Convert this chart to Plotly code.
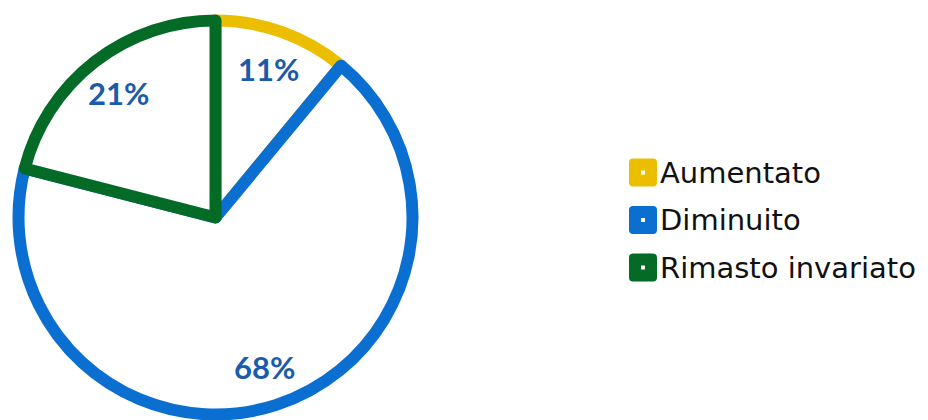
import math
import plotly.graph_objects as go

categorie = ["Aumentato", "Diminuito", "Rimasto invariato"]
valori = [11, 68, 21]
colori = ["#EBBF00", "#0B6FD1", "#046B27"]

# la pagina ha un margine di 8px sul body: la figura viene ridotta di conseguenza
W, H = 920, 412
dom_x = [0.0114, 0.4397]
dom_y = [0.0134, 0.9697]

fig = go.Figure(go.Pie(
    labels=categorie,
    values=valori,
    sort=False,
    direction="clockwise",
    rotation=0,
    marker=dict(colors=["white"] * 3, line=dict(color=colori, width=12)),
    textinfo="none",
    showlegend=False,
    hoverinfo="label+percent",
    domain=dict(x=dom_x, y=dom_y),
))

# etichette percentuali, posizionate lungo la bisettrice di ogni fetta
cx = (dom_x[0] + dom_x[1]) / 2 * W
cy = (dom_y[0] + dom_y[1]) / 2 * H
r = min((dom_x[1] - dom_x[0]) * W, (dom_y[1] - dom_y[0]) * H) / 2
tot = sum(valori)
cum = 0
for v in valori:
    ang = (cum + v / 2) / tot * 2 * math.pi
    cum += v
    fig.add_annotation(
        x=(cx + 0.8 * r * math.sin(ang)) / W, y=(cy + 0.8 * r * math.cos(ang)) / H,
        xref="paper", yref="paper", showarrow=False,
        xanchor="center", yanchor="middle",
        text=f"{round(v / tot * 100)}%",
        font=dict(family="Lato", size=31, color="#1A5BAA", weight="bold"))

# legenda disegnata a mano per avere i quadrati grandi come nell'originale
y_righe = [164.5, 212, 259.5]
for nome, col, yp in zip(categorie, colori, y_righe):
    yf = 1 - yp / H
    fig.add_shape(type="path", xref="paper", yref="paper",
                  xsizemode="pixel", ysizemode="pixel", xanchor=635 / W, yanchor=yf,
                  path="M -10 -14 L 10 -14 Q 14 -14 14 -10 L 14 10 Q 14 14 10 14 "
                       "L -10 14 Q -14 14 -14 10 L -14 -10 Q -14 -14 -10 -14 Z",
                  fillcolor=col, line=dict(width=0))
    fig.add_shape(type="rect", xref="paper", yref="paper",
                  xsizemode="pixel", ysizemode="pixel", xanchor=635 / W, yanchor=yf,
                  x0=-2, x1=2, y0=-2, y1=2, fillcolor="white", line=dict(width=0))
    fig.add_annotation(x=650 / W, y=yf, xref="paper", yref="paper", text=nome,
                       showarrow=False, xanchor="left", yanchor="middle",
                       font=dict(family="DejaVu Sans", size=29, color="#111111"))

fig.update_layout(
    width=W, height=H,
    margin=dict(l=0, r=0, t=0, b=0),
    paper_bgcolor="white",
    plot_bgcolor="white",
)

fig.write_html("out.html")
